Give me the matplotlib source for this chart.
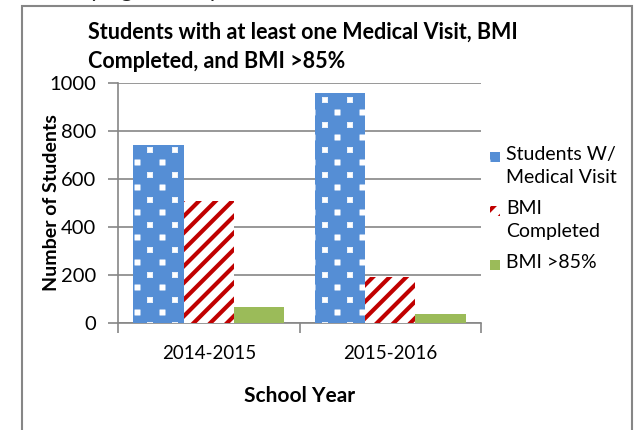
import matplotlib
matplotlib.use("Agg")
import matplotlib.pyplot as plt
import matplotlib.hatch as mhatch
from matplotlib.patches import Rectangle
from matplotlib.path import Path
import numpy as np

categories = ["2014-2015", "2015-2016"]
series_names = ["Students W/\nMedical Visit", "BMI\nCompleted", "BMI >85%"]
medical_visit = [740, 960]
bmi_completed = [510, 190]
bmi_over85 = [65, 38]
yticks = [0, 200, 400, 600, 800, 1000]


# custom "confetti" hatch: small filled squares on a staggered grid, used for '.'
class SquareConfetti(mhatch.HatchPatternBase):
    ncols = 4
    nrows = 8
    half = 0.026

    def __init__(self, hatch, density):
        self.on = hatch.count('.') > 0
        n = self.ncols * (self.nrows + 1) if self.on else 0
        self.num_vertices = n * 5

    def _fill(self, vertices, codes):
        sq = np.array([[-1, -1], [1, -1], [1, 1], [-1, 1], [-1, -1]], float) * self.half
        sc = [Path.MOVETO, Path.LINETO, Path.LINETO, Path.LINETO, Path.CLOSEPOLY]
        vparts, cparts = [], []
        for r in range(self.nrows + 1):
            yy = r / self.nrows
            off = 0.0 if r % 2 == 0 else 0.5 / self.ncols
            for c in range(self.ncols):
                xx = c / self.ncols + off
                vparts.append(sq + [xx, yy])
                cparts.append(sc)
        vertices[:] = np.concatenate(vparts)
        codes[:] = np.concatenate(cparts)

    def set_vertices_and_codes(self, vertices, codes):
        self._fill(vertices, codes)

    def get_vertices_and_codes(self, vertices, codes):
        self._fill(vertices, codes)

try:
    mhatch._hatch_types[:] = [SquareConfetti if t is mhatch.SmallFilledCircles else t
                              for t in mhatch._hatch_types]
except Exception:
    pass

plt.rcParams['font.family'] = ['Lato', 'DejaVu Sans']

W, H = 636, 430
fig = plt.figure(figsize=(W / 100, H / 100), dpi=100)

# outer frame
fig.add_artist(Rectangle((22 / W, -0.05), (632 - 22) / W, 0.05 + (H - 6) / H,
                         transform=fig.transFigure, fill=False,
                         edgecolor='#868686', linewidth=1.5, zorder=5))

# clipped text at very top (only its lowest part is visible)
fig.text(22 / W, 1 + 3 / H, "Identifying Obesity in Our Schools", fontsize=17,
         ha='left', va='baseline', color='#222222')

ax = fig.add_axes([118 / W, (H - 323) / H, (481 - 118) / W, (323 - 83) / H])

x = np.arange(len(categories))
bw = 0.278
series = [medical_visit, bmi_completed, bmi_over85]
styles = [
    dict(facecolor='#558ED5', edgecolor='white', hatch='.', hlw=0.5),
    dict(facecolor='white', edgecolor='#C00000', hatch='//', hlw=3.0),
    dict(facecolor='#9BBB59', edgecolor='#9BBB59', hatch=None, hlw=1.0),
]


def style_patch(p, st):
    try:
        p.set_hatch_linewidth(st['hlw'])
    except Exception:
        pass


for i, (vals, st) in enumerate(zip(series, styles)):
    plt.rcParams['hatch.linewidth'] = st['hlw']
    bars = ax.bar(x + (i - 1) * bw, vals, width=bw, facecolor=st['facecolor'],
                  edgecolor=st['edgecolor'], hatch=st['hatch'], linewidth=0,
                  zorder=3)
    for b in bars:
        style_patch(b, st)

ax.set_xlim(-0.5, 1.5)
ax.set_ylim(0, 1000)
ax.set_yticks(yticks)
ax.set_yticklabels([str(v) for v in yticks], fontsize=14.5)
ax.yaxis.grid(True, color='#868686', linewidth=1.2, zorder=0)
ax.set_axisbelow(True)

ax.set_xticks(x)
ax.set_xticklabels(categories, fontsize=13.5)
ax.tick_params(axis='x', length=0, pad=16)
ax.set_xticks([-0.5, 0.5, 1.5], minor=True)
ax.tick_params(axis='x', which='minor', length=7, color='#868686', width=1.2)
ax.tick_params(axis='y', length=7, color='#868686', width=1.2, pad=9)

for s in ['top', 'right']:
    ax.spines[s].set_visible(False)
for s in ['left', 'bottom']:
    ax.spines[s].set_color('#868686')
    ax.spines[s].set_linewidth(1.2)

ax.set_ylabel("Number of Students", fontsize=14, fontweight='bold')
ax.yaxis.set_label_coords((60 - 118) / (481 - 118), 0.5)
ax.set_xlabel("School Year", fontsize=15, fontweight='bold')
ax.xaxis.set_label_coords(0.5, -(396 - 323) / (323 - 83))
ax.xaxis.label.set_va('center')

fig.text(88 / W, 1 - 32 / H, "Students with at least one Medical Visit, BMI",
         fontsize=15.5, fontweight='bold', ha='left', va='center')
fig.text(88 / W, 1 - 62 / H, "Completed, and BMI >85%",
         fontsize=15.5, fontweight='bold', ha='left', va='center')

# legend (drawn manually so the key sits on the first text line)
leg_y = [157, 211, 265]
for name, st, yy in zip(series_names, styles, leg_y):
    plt.rcParams['hatch.linewidth'] = st['hlw']
    r = Rectangle((490 / W, 1 - (yy + 5) / H), 10 / W, 10 / H, transform=fig.transFigure,
                  facecolor=st['facecolor'], edgecolor=st['edgecolor'],
                  hatch=st['hatch'], linewidth=0)
    style_patch(r, st)
    fig.add_artist(r)
    fig.text(506 / W, 1 - (yy - 11) / H, name, fontsize=14, ha='left', va='top',
             linespacing=1.45)

fig.savefig("out.png", dpi=100)
